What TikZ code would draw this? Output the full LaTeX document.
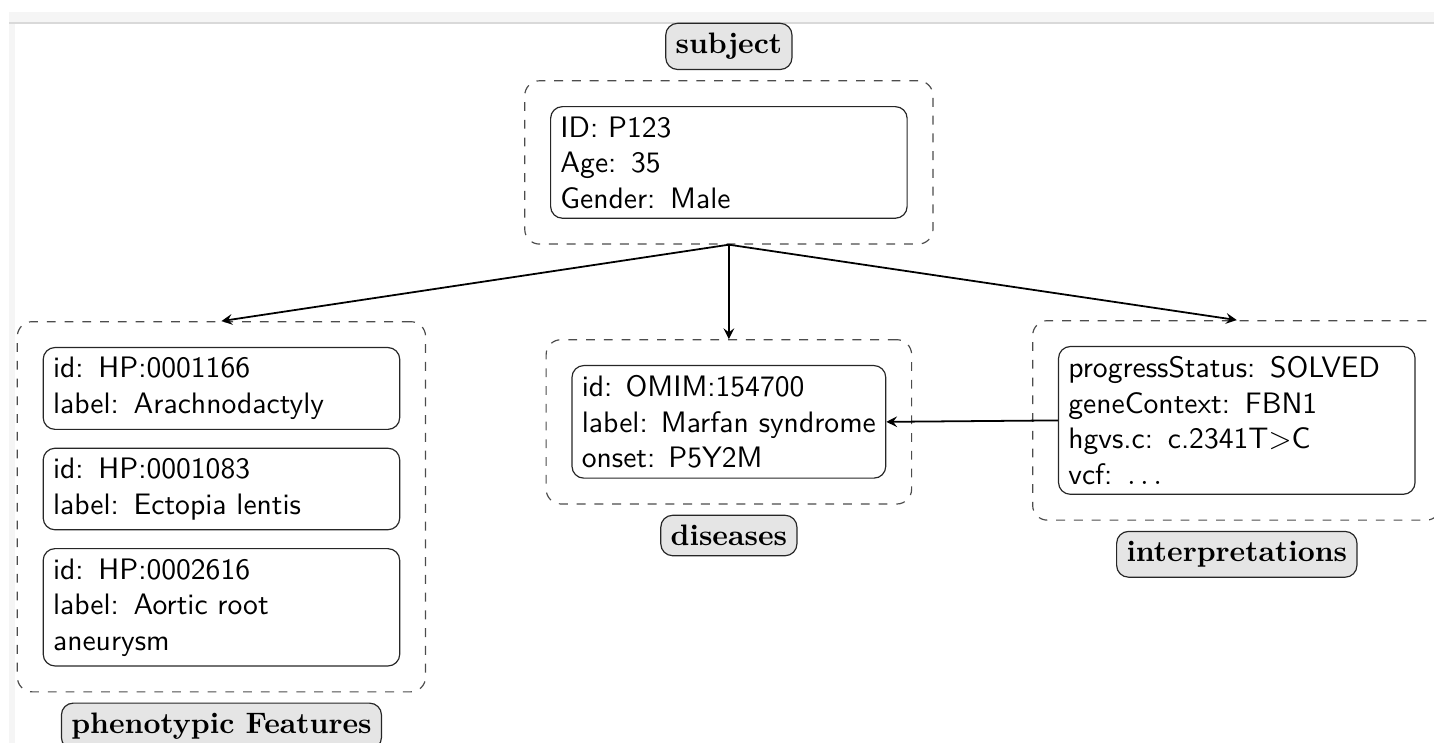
\documentclass[tikz,border=0pt]{standalone}
\usepackage{amsmath, amssymb}
\usetikzlibrary{positioning,calc}
\usetikzlibrary{backgrounds,fit}
\usetikzlibrary{arrows,shapes}

\tikzset{
  entry/.style = {draw=black!85, rounded corners=4pt, font=\sffamily, align=left},
  wideentry/.style = {entry, text width=4cm},
  group/.style = {draw=black!70, dashed, rounded corners=5pt, inner sep=3mm},
  tag/.style = {draw=black!85, fill=gray!20, rounded corners=4pt, font=\bfseries},
  link/.style = {->, >=stealth, semithick},
}

\begin{document}
\begin{tikzpicture}
  % Page size and edge of the page
  \useasboundingbox (0,0) rectangle (17.03,-8.82);
  \fill[gray!8] (0.107,-0.142) rectangle (17.03,-0.261);
  \fill[gray!30] (0.107,-0.261) rectangle (17.03,-0.285);
  \fill[gray!8] (0.107,-0.285) rectangle (0.178,-8.82);

  % Subject
  \node[wideentry, anchor=north] (subj) at (8.656,-1.259) {ID: P123\\Age: 35\\Gender: Male};
  \node[group, fit=(subj)] (subjbox) {};
  \node[tag, above=1.2mm of subjbox] (subjtag) {subject};

  % Phenotypic features
  \node[wideentry, anchor=north] (pheno1) at (2.630,-4.120) {id: HP:0001166\\label: Arachnodactyly};
  \node[wideentry, below=2.1mm of pheno1] (pheno2) {id: HP:0001083\\label: Ectopia lentis};
  \node[wideentry, below=2.1mm of pheno2] (pheno3) {id: HP:0002616\\label: Aortic root aneurysm};
  \node[group, fit=(pheno1) (pheno2) (pheno3)] (phenobox) {};
  \node[tag, below=1.2mm of phenobox] (phenotag) {phenotypic Features};

  % Diseases
  \node[entry, anchor=north] (dis) at (8.656,-4.334) {id: OMIM:154700\\label: Marfan syndrome\\onset: P5Y2M};
  \node[group, fit=(dis)] (disbox) {};
  \node[tag, below=1.2mm of disbox] (distag) {diseases};

  % Interpretations
  \node[wideentry, anchor=north] (interp) at (14.688,-4.108) {progressStatus: SOLVED\\geneContext: FBN1\\hgvs.c: c.2341T$>$C\\vcf: $\ldots$};
  \node[group, fit=(interp)] (interpbox) {};
  \node[tag, below=1.2mm of interpbox] (interptag) {interpretations};

  % Arrows
  \draw[link] (subjbox.south) -- (phenobox.north);
  \draw[link] (subjbox.south) -- (disbox.north);
  \draw[link] (subjbox.south) -- (interpbox.north);
  \draw[link] (interp.west) -- (dis.east);
\end{tikzpicture}
\end{document}
